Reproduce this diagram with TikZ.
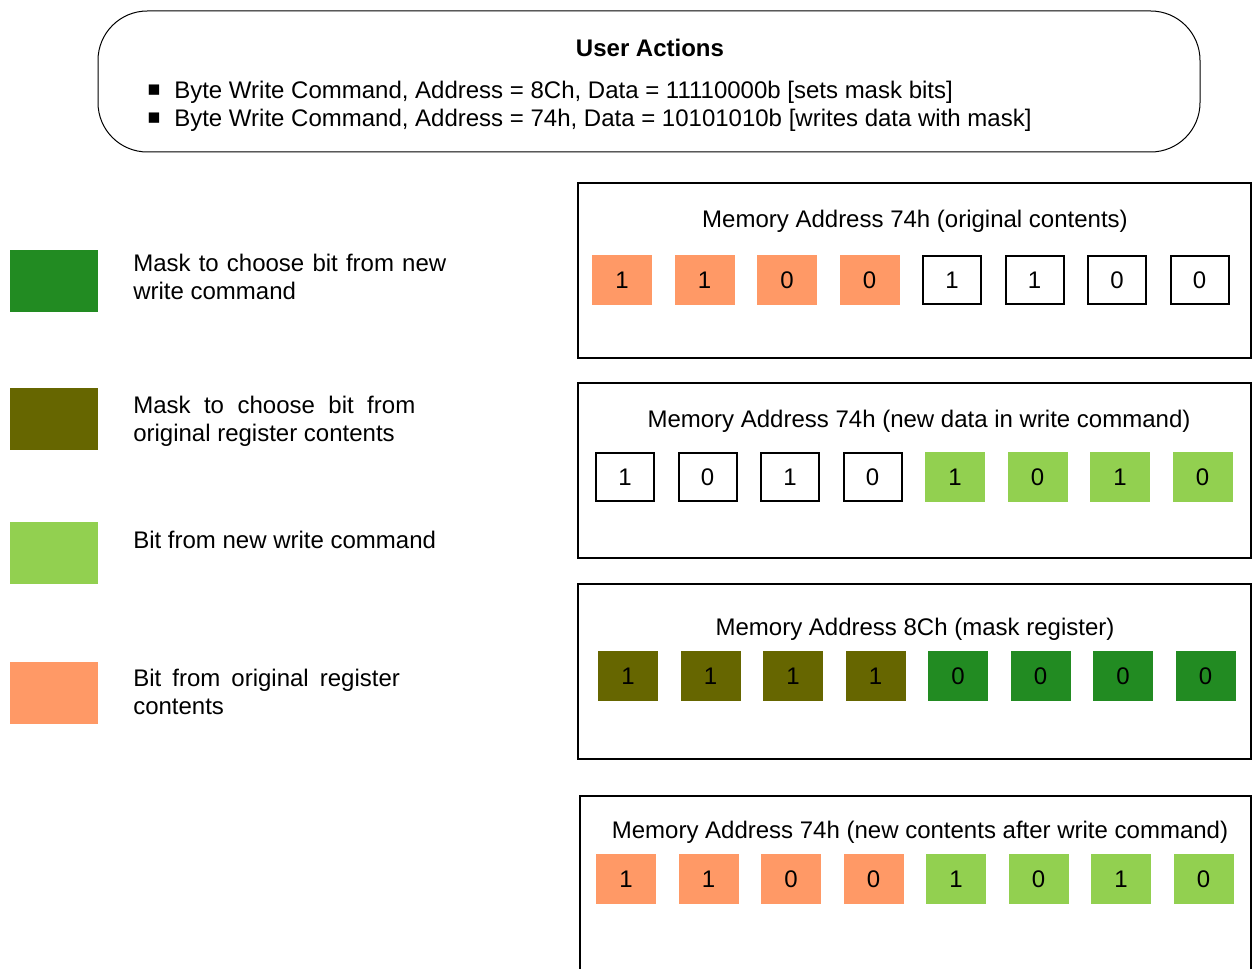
\documentclass[tikz,border=0pt]{standalone}
\usepackage{fontspec}
\setmainfont{Liberation Sans}
\usetikzlibrary{positioning}
\definecolor{maskgreen}{HTML}{228B22}
\definecolor{maskolive}{HTML}{666600}
\definecolor{bitgreen}{HTML}{92D050}
\definecolor{bitorange}{HTML}{FF9966}

\begin{document}
\begin{tikzpicture}[x=0.75pt, y=-0.75pt, every node/.style={font=\fontsize{18}{21}\selectfont, inner sep=0pt},
  cell/.style={minimum width=45pt, minimum height=38pt},
  origbit/.style={cell, fill=bitorange},
  newbit/.style={cell, fill=bitgreen},
  plainbit/.style={cell, draw, line width=1.5pt, minimum width=43.5pt, minimum height=36.5pt},
  keepmask/.style={cell, fill=maskolive},
  takemask/.style={cell, fill=maskgreen},
  swatch/.style={minimum width=66pt, minimum height=46.5pt},
  panel/.style={line width=1.5pt}]
\useasboundingbox (0,0) rectangle (1253,969);

% user actions box
\draw[line width=0.75pt, rounded corners=37pt] (98,11) rectangle (1200,152);
\node[font=\fontsize{18}{21}\selectfont\bfseries] (actions) at (650,48) {User Actions};
\node[font=\fontsize{16}{16}\selectfont] (bulA) at (154,91) {■};
\node[font=\fontsize{16}{16}\selectfont] (bulB) at (154,119) {■};
\node[anchor=base west] (cmdA) at (174,99) {Byte Write Command, Address = 8Ch, Data = 11110000b [sets mask bits]};
\node[anchor=base west] (cmdB) at (174,127) {Byte Write Command, Address = 74h, Data = 10101010b [writes data with mask]};

% legend
\node[swatch, fill=maskgreen] (lgA) at (54,281) {};
\node[swatch, fill=maskolive] (lgB) at (54,419) {};
\node[swatch, fill=bitgreen] (lgC) at (54,553) {};
\node[swatch, fill=bitorange] (lgD) at (54,693) {};
\node[anchor=west, text width=234.75pt, align=justify] (txA) at (133,277) {Mask to choose bit from new write command};
\node[anchor=west, text width=211.5pt, align=justify] (txB) at (133,421) {Mask to choose bit from original register contents};
\node[anchor=west] (txC) at (133,540) {Bit from new write command};
\node[anchor=west, text width=200pt, align=justify] (txD) at (133,692) {Bit from original register contents};

% original contents
\draw[panel] (578,183) rectangle (1251,358);
\node (orig) at (915,221) {Memory Address 74h (original contents)};
\foreach \v/\s [count=\i from 0] in {1/origbit,1/origbit,0/origbit,0/origbit,1/plainbit,1/plainbit,0/plainbit,0/plainbit}
  \node[\s] (a\i) at ({622+82.5*\i},280) {\v};

% new data
\draw[panel] (578,383) rectangle (1251,558);
\node (newdata) at (919,421) {Memory Address 74h (new data in write command)};
\foreach \v/\s [count=\i from 0] in {1/plainbit,0/plainbit,1/plainbit,0/plainbit,1/newbit,0/newbit,1/newbit,0/newbit}
  \node[\s] (b\i) at ({625+82.5*\i},477) {\v};

% mask register
\draw[panel] (578,584) rectangle (1251,759);
\node (mask) at (915,629) {Memory Address 8Ch (mask register)};
\foreach \v/\s [count=\i from 0] in {1/keepmask,1/keepmask,1/keepmask,1/keepmask,0/takemask,0/takemask,0/takemask,0/takemask}
  \node[\s] (c\i) at ({628+82.5*\i},676) {\v};

% result
\draw[panel] (580,980) -- (580,796) -- (1251,796) -- (1251,980);
\node (result) at (920,832) {Memory Address 74h (new contents after write command)};
\foreach \v/\s [count=\i from 0] in {1/origbit,1/origbit,0/origbit,0/origbit,1/newbit,0/newbit,1/newbit,0/newbit}
  \node[\s] (d\i) at ({626+82.5*\i},879) {\v};
\end{tikzpicture}
\end{document}
